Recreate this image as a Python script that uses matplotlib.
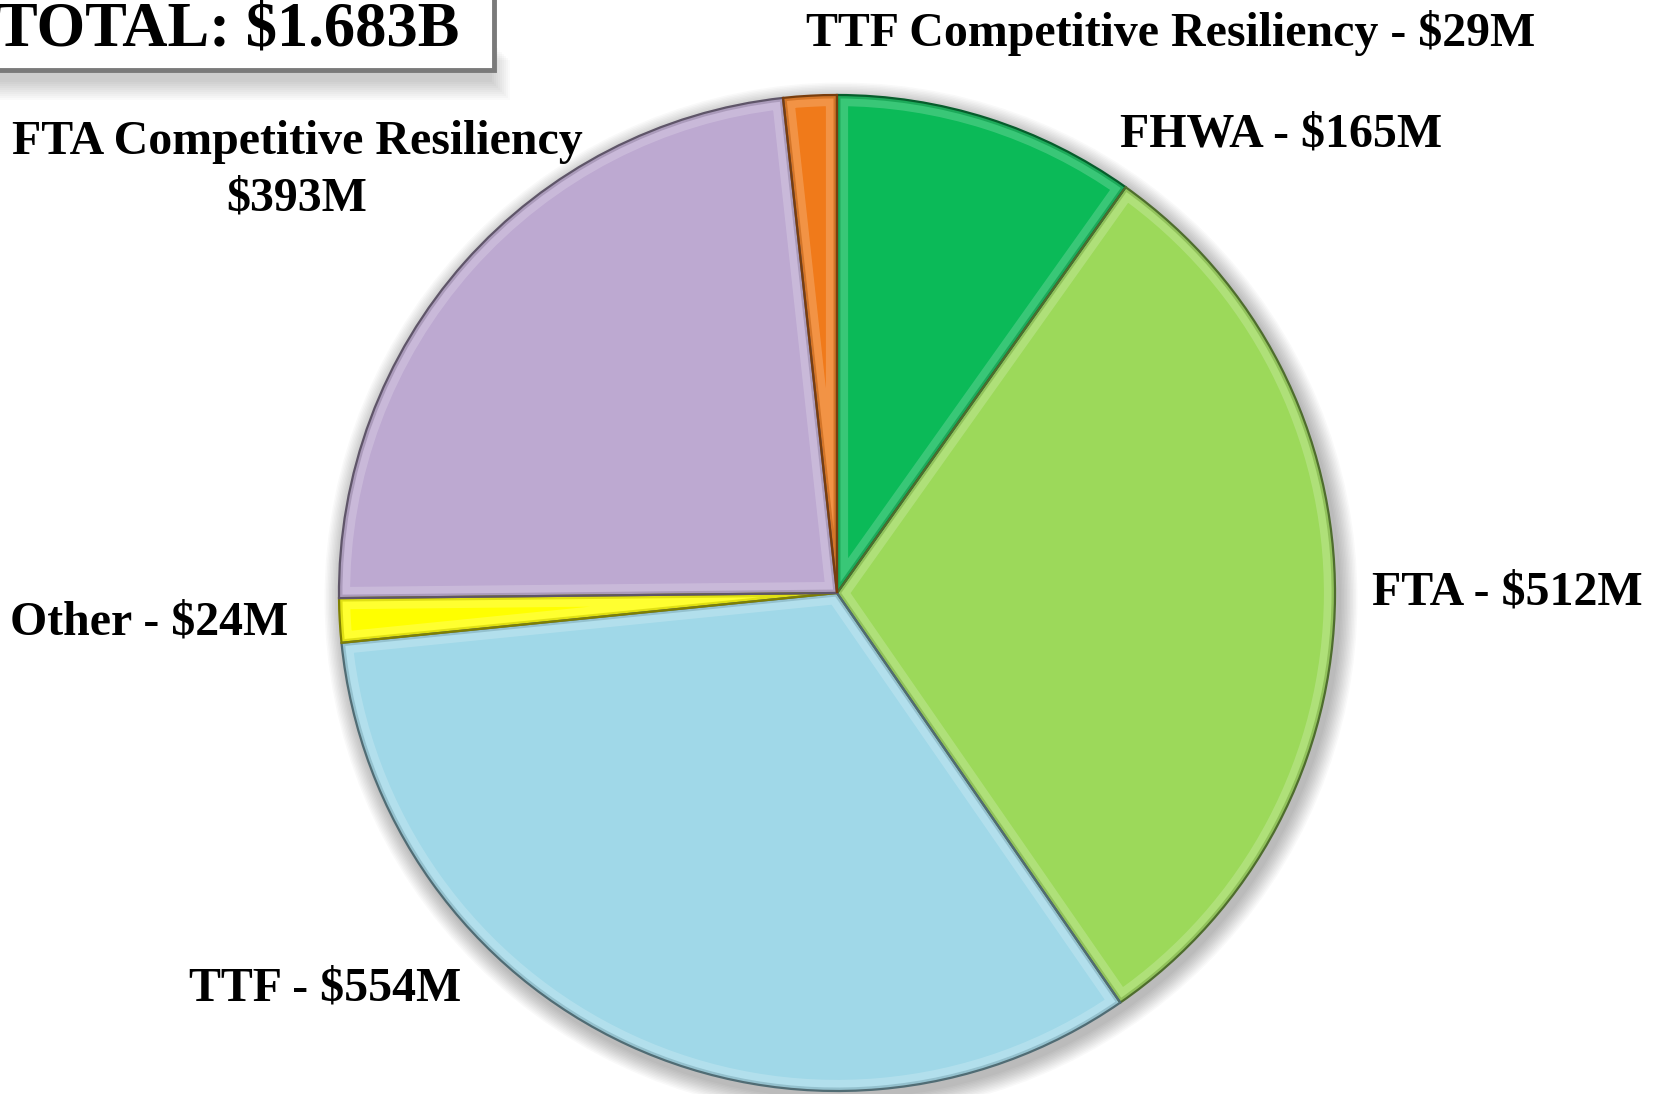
import numpy as np
import matplotlib.pyplot as plt
from matplotlib.patches import Rectangle, Circle, Wedge
from matplotlib.colors import to_rgb

# slices, clockwise from 12 o'clock
labels = ['FHWA - $165M', 'FTA - $512M', 'TTF - $554M', 'Other - $24M',
          'FTA Competitive Resiliency\n$393M', 'TTF Competitive Resiliency - $29M']
values = [165, 512, 554, 24, 393, 29]
colors = ['#0BBA58', '#9CD95A', '#A0D8E8', '#FFFF00', '#BDA9D1', '#F07A1A']
total_label = 'TOTAL: $1.683B'

W, H = 1660, 1094
fig = plt.figure(figsize=(W / 100, H / 100), dpi=100)
ax = fig.add_axes([0, 0, 1, 1])
ax.set_xlim(0, W)
ax.set_ylim(0, H)
ax.set_aspect('equal')
ax.axis('off')

cx, cy, r = 837, H - 593, 498

# soft drop shadow
for k in range(12):
    ax.add_patch(Circle((cx + 4, cy - 6), r + 2 + k * 1.5, color='black',
                        alpha=0.025, lw=0, zorder=0))

def darker(c, f=0.6):
    return tuple(np.array(to_rgb(c)) * f)

def lighter(c, f=0.4):
    c = np.array(to_rgb(c))
    return tuple(c + (1 - c) * f)

wedges, _ = ax.pie(values, colors=colors, startangle=90, counterclock=False,
                   center=(cx, cy), radius=r, frame=True)
for w, c in zip(wedges, colors):
    w.set_edgecolor('none')
    w.set_zorder(2)
    # bevel: light band inside the edge, clipped to the wedge
    band = Wedge(w.center, w.r, w.theta1, w.theta2, facecolor='none',
                 edgecolor=lighter(c, 0.35), lw=16, alpha=0.55, zorder=3)
    ax.add_patch(band)
    band.set_clip_path(w)
    inner = Wedge(w.center, w.r, w.theta1, w.theta2, facecolor='none',
                  edgecolor=darker(c, 0.8), lw=5, alpha=0.6, zorder=3)
    ax.add_patch(inner)
    inner.set_clip_path(w)
    rim = Wedge(w.center, w.r, w.theta1, w.theta2, facecolor='none',
                edgecolor=darker(c, 0.5), lw=1.6, zorder=4)
    ax.add_patch(rim)
ax.set_xlim(0, W)
ax.set_ylim(0, H)
ax.axis('off')

# labels (pixel positions measured from top)
font = dict(family='Liberation Serif', weight='bold', fontsize=34.5, color='black')
pos = [(1281, 135), (1507, 592), (325, 989), (149, 622), (297, 170), (1171, 33)]
for lab, (x, y) in zip(labels, pos):
    ax.text(x, H - y, lab, ha='center', va='center', linespacing=1.38, **font)

# total box with shadow
for k in range(10):
    ax.add_patch(Rectangle((-20, H - 100 + k * 2), 530 - k * 2, 40, color='black',
                           alpha=0.02, lw=0, zorder=5))
ax.add_patch(Rectangle((-10, H - 70), 504, 90, facecolor='white',
                       edgecolor='#7a7a7a', lw=3.5, zorder=6))
ax.text(-4, H - 30, total_label, ha='left', va='center', zorder=7,
        family='Liberation Serif', weight='bold', fontsize=45)

fig.savefig('out.png', dpi=100)
